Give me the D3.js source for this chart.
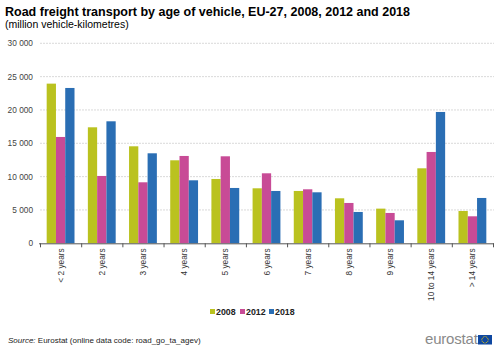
<!DOCTYPE html>
<html><head><meta charset="utf-8">
<script src="https://cdn.jsdelivr.net/npm/d3@7"></script>
<style>body{margin:0;background:#fff}svg{display:block;font-family:Arial,"Liberation Sans",sans-serif}</style>
</head><body><svg id="c" width="500" height="349"></svg>
<script>
const categories = ["< 2 years","2 years","3 years","4 years","5 years","6 years","7 years","8 years","9 years","10 to 14 years","> 14 years"];
const series = ["2008","2012","2018"];
const v2008 = [23950,17400,14550,12450,9650,8250,7850,6750,5200,11250,4850];
const v2012 = [15950,10100,9150,13100,13050,10500,8100,6050,4550,13700,4050];
const v2018 = [23300,18300,13500,9450,8300,7850,7650,4700,3450,19700,6800];
const yTicks = [0,5000,10000,15000,20000,25000,30000];
const colors = ["#bac21f","#c84b96","#2a6eb4"];

const svg = d3.select("#c");
const m = {l:40, r:493, t:43.3, b:243.3};
const x = d3.scaleBand().domain(categories).range([m.l, m.r]).paddingInner(0).paddingOuter(0);
const xs = d3.scaleBand().domain(series).range([0, x.bandwidth()]).paddingInner(0).paddingOuter(0.72);
const y = d3.scaleLinear().domain([0,30000]).range([m.b, m.t]);
const fmt = v => d3.format(",")(v).replace(/,/g," ");

svg.append("text").attr("x",5).attr("y",16).attr("font-size",12.5).attr("font-weight","bold").attr("fill","#000")
  .text("Road freight transport by age of vehicle, EU-27, 2008, 2012 and 2018");
svg.append("text").attr("x",5).attr("y",28).attr("font-size",10.5).attr("fill","#000").text("(million  vehicle-kilometres)");

// grid
svg.append("g").selectAll("line").data(yTicks.filter(d=>d>0)).join("line")
  .attr("x1",m.l).attr("x2",m.r+1).attr("y1",d=>y(d)).attr("y2",d=>y(d))
  .attr("stroke","#cfcfcf").attr("stroke-dasharray","2,1").attr("stroke-width",0.8);
svg.append("g").selectAll("text").data(yTicks).join("text")
  .attr("x",33).attr("y",d=>y(d)+3).attr("text-anchor","end").attr("font-size",8.3).attr("fill","#444").text(fmt);

const data = [v2008, v2012, v2018];
series.forEach((s,i)=>{
  svg.append("g").selectAll("rect").data(categories).join("rect")
    .attr("x",c=>x(c)+xs(s)).attr("width",xs.bandwidth())
    .attr("y",(c,j)=>y(data[i][j])).attr("height",(c,j)=>m.b-y(data[i][j]))
    .attr("fill",colors[i]);
});

// x axis
const xa = svg.append("g");
xa.append("line").attr("x1",m.l-1).attr("x2",m.r+1).attr("y1",m.b+0.5).attr("y2",m.b+0.5).attr("stroke","#555");
const bounds = categories.map(c=>x(c)).concat([m.r]);
xa.selectAll("line.t").data(bounds).join("line").attr("class","t")
  .attr("x1",d=>d+0.5).attr("x2",d=>d+0.5).attr("y1",m.b).attr("y2",m.b+4).attr("stroke","#555");
xa.selectAll("text").data(categories).join("text")
  .attr("transform",c=>`translate(${x(c)+x.bandwidth()/2+3},${m.b+5}) rotate(-90)`)
  .attr("text-anchor","end").attr("font-size",8.3).attr("fill","#333").text(c=>c);

// legend
const lg = svg.append("g");
const lx = [210, 240, 269];
series.forEach((s,i)=>{
  lg.append("rect").attr("x",lx[i]).attr("y",309).attr("width",5).attr("height",5).attr("fill",colors[i]);
  lg.append("text").attr("x",lx[i]+6).attr("y",315).attr("font-size",8.8).attr("font-weight","bold").attr("fill","#222").text(s);
});

// source
const src = svg.append("text").attr("x",8).attr("y",343).attr("font-size",8).attr("fill","#222");
src.append("tspan").attr("font-style","italic").text("Source:");
src.append("tspan").text(" Eurostat (online data code: road_go_ta_agev)");

// logo
svg.append("text").attr("x",425).attr("y",344).attr("font-size",15).attr("fill","#8a8a8a").attr("letter-spacing",-0.2).text("eurostat");
svg.append("rect").attr("x",478).attr("y",335).attr("width",14).attr("height",9.5).attr("fill","#0e47a1");
const stars = d3.range(12).map(k=>[485+3.2*Math.cos(k*Math.PI/6), 339.75+3.2*Math.sin(k*Math.PI/6)]);
svg.append("g").selectAll("circle").data(stars).join("circle").attr("cx",d=>d[0]).attr("cy",d=>d[1]).attr("r",0.5).attr("fill","#ffd400");
</script></body></html>
